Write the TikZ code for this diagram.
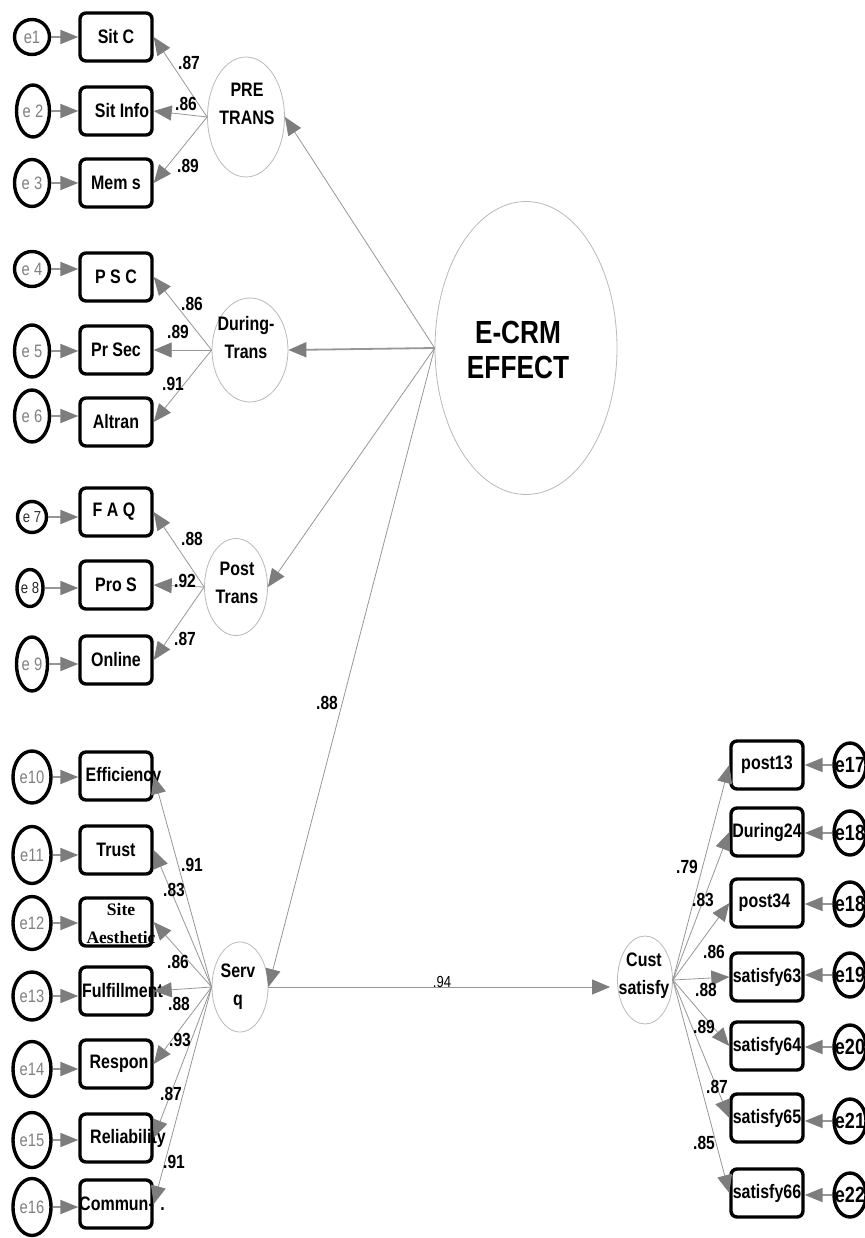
\documentclass[tikz,border=0pt]{standalone}
\usepackage{fontspec}
\setmainfont{Liberation Sans}[FakeStretch=0.82]
\newfontfamily\serifb{Liberation Serif}
\usetikzlibrary{shapes.geometric,arrows.meta}
\definecolor{lg}{RGB}{150,150,150}
\definecolor{ag}{RGB}{125,125,125}
\definecolor{eg}{RGB}{185,185,185}
\newcommand\ov[2]{\makebox[0pt]{\hspace*{#1}#2}}
\begin{document}
\begin{tikzpicture}[x=1pt,y=-1pt,
  ind/.style={draw=black,line width=3.4pt,rounded corners=6pt,minimum width=72pt,minimum height=48pt,inner sep=0pt,font=\bfseries\fontsize{19.5}{21}\selectfont},
  err/.style={draw=black,line width=3.4pt,ellipse,inner sep=0pt,text=gray,font=\fontsize{18}{20}\selectfont},
  errR/.style={err,minimum width=32pt,minimum height=44pt,text=black,font=\bfseries\fontsize{22}{24}\selectfont},
  lat/.style={draw=eg,line width=0.8pt,ellipse,inner sep=0pt},
  lattxt/.style={align=center,font=\bfseries\fontsize{19.5}{28}\selectfont},
  coef/.style={font=\bfseries\fontsize{19}{21}\selectfont},
  load/.style={draw=lg,line width=0.8pt,-{Triangle[length=18pt,width=15pt,color=ag]}},
  errarr/.style={draw=lg,line width=2pt,-{Triangle[length=18pt,width=14pt,color=ag]}}
]
\useasboundingbox (0,0) rectangle (864,1238);

% ---------- latent variables ----------
\node[lat,minimum width=182pt,minimum height=293pt] (ecrm) at (526,348) {};
\node[align=center,font=\bfseries\fontsize{32}{35}\selectfont] (ecrmtxt) at (518,350) {E-CRM\\EFFECT};
\node[lat,minimum width=77pt,minimum height=120pt] (pre) at (246,117) {};
\node[lattxt] (pretxt) at (247,104) {PRE\\TRANS};
\node[lat,minimum width=76pt,minimum height=104pt] (during) at (250,350) {};
\node[lattxt] (duringtxt) at (246,338) {During-\\Trans};
\node[lat,minimum width=63pt,minimum height=97pt] (post) at (236,587) {};
\node[lattxt] (posttxt) at (237,583) {Post\\Trans};
\node[lat,minimum width=56pt,minimum height=90pt] (serv) at (240,987) {};
\node[lattxt] (servtxt) at (238,987) {Serv\\q};
\node[lat,minimum width=55pt,minimum height=88pt] (cust) at (645,980) {};
\node[lattxt] (custtxt) at (644,976) {Cust\\satisfy};

% ---------- left indicators ----------
\node[ind] (sitc)    at (116,37)   {\ov{0pt}{Sit C}};
\node[ind] (sitinfo) at (116,111)  {\ov{12pt}{Sit Info}};
\node[ind] (mems)    at (116,183)  {\ov{0pt}{Mem s}};
\node[ind] (psc)     at (116,277)  {\ov{0pt}{P S C}};
\node[ind] (prsec)   at (116,350)  {\ov{0pt}{Pr Sec}};
\node[ind] (altran)  at (116,422)  {\ov{0pt}{Altran}};
\node[ind] (faq)     at (116,512)  {\ov{-4pt}{F A Q}};
\node[ind] (pros)    at (116,585)  {\ov{0pt}{Pro S}};
\node[ind] (online)  at (116,660)  {\ov{0pt}{Online}};
\node[ind] (eff)     at (116,776)  {\ov{15pt}{Efficiency}};
\node[ind] (trust)   at (116,850)  {\ov{0pt}{Trust}};
\node[ind] (sitea)   at (116,922)  {};
\node[align=center,font=\serifb\bfseries\fontsize{17.5}{28}\selectfont] (siteatxt) at (121,924) {Site\\Aesthetic};
\node[ind] (fulf)    at (116,991)  {\ov{13pt}{Fulfillment}};
\node[ind] (respon)  at (116,1064) {\ov{6pt}{Respon}};
\node[ind] (relia)   at (116,1138) {\ov{24pt}{Reliability}};
\node[ind] (commun)  at (116,1204) {\ov{12pt}{Commun-\,\,.}};

% ---------- left error terms ----------
\node[err,minimum width=35pt,minimum height=35pt] (e1)  at (32,37)   {\makebox[0pt]{e1}};
\node[err,minimum width=33pt,minimum height=52pt] (e2)  at (33,111)  {\makebox[0pt]{e 2}};
\node[err,minimum width=35pt,minimum height=47pt] (e3)  at (32,183)  {\makebox[0pt]{e 3}};
\node[err,minimum width=35pt,minimum height=35pt] (e4)  at (32,269)  {\makebox[0pt]{e 4}};
\node[err,minimum width=35pt,minimum height=52pt] (e5)  at (32,351)  {\makebox[0pt]{e 5}};
\node[err,minimum width=35pt,minimum height=52pt] (e6)  at (32,416)  {\makebox[0pt]{e 6}};
\node[err,minimum width=29pt,minimum height=31pt,text=black!80,font=\fontsize{16}{18}\selectfont] (e7)  at (32,517)  {\makebox[0pt]{e 7}};
\node[err,minimum width=26pt,minimum height=37pt,text=black!85,font=\fontsize{16}{18}\selectfont] (e8)  at (30,588)  {\makebox[0pt]{e 8}};
\node[err,minimum width=31pt,minimum height=54pt] (e9)  at (32,664)  {\makebox[0pt]{e 9}};
\node[err,minimum width=38pt,minimum height=52pt] (e10) at (32,777)  {\makebox[0pt]{e10}};
\node[err,minimum width=38pt,minimum height=57pt] (e11) at (32,855)  {\makebox[0pt]{e11}};
\node[err,minimum width=38pt,minimum height=53pt] (e12) at (32,923)  {\makebox[0pt]{e12}};
\node[err,minimum width=38pt,minimum height=48pt] (e13) at (32,996)  {\makebox[0pt]{e13}};
\node[err,minimum width=38pt,minimum height=55pt] (e14) at (32,1069) {\makebox[0pt]{e14}};
\node[err,minimum width=38pt,minimum height=55pt] (e15) at (32,1140) {\makebox[0pt]{e15}};
\node[err,minimum width=38pt,minimum height=57pt] (e16) at (32,1207) {\makebox[0pt]{e16}};

% ---------- right indicators ----------
\node[ind] (post13)   at (767,765)  {\ov{0pt}{post13}};
\node[ind] (during24) at (767,832)  {\ov{0pt}{During24}};
\node[ind] (post34)   at (767,903)  {\ov{-5pt}{post34}};
\node[ind] (sat63)    at (767,977)  {\ov{0pt}{satisfy63}};
\node[ind] (sat64)    at (767,1046) {\ov{0pt}{satisfy64}};
\node[ind] (sat65)    at (767,1118) {\ov{0pt}{satisfy65}};
\node[ind] (sat66)    at (767,1193) {\ov{0pt}{satisfy66}};

% ---------- right error terms ----------
\node[errR] (e17)  at (850,765)  {\makebox[0pt]{e17}};
\node[errR] (e18)  at (850,833)  {\makebox[0pt]{e18}};
\node[errR] (e18b) at (850,904)  {\makebox[0pt]{e18}};
\node[errR] (e19)  at (850,975)  {\makebox[0pt]{e19}};
\node[errR] (e20)  at (850,1047) {\makebox[0pt]{e20}};
\node[errR] (e21)  at (850,1121) {\makebox[0pt]{e21}};
\node[errR] (e22)  at (850,1195) {\makebox[0pt]{e22}};

% ---------- error arrows ----------
\foreach \e/\b in {e1/sitc,e2/sitinfo,e3/mems,e4/psc,e5/prsec,e6/altran,e7/faq,e8/pros,e9/online,e10/eff,e11/trust,e12/sitea,e13/fulf,e14/respon,e15/relia,e16/commun}
  \draw[errarr] (\e.east) -- (\e.east -| \b.west);
\foreach \e/\b in {e17/post13,e18/during24,e18b/post34,e19/sat63,e20/sat64,e21/sat65,e22/sat66}
  \draw[errarr] (\e.west) -- (\e.west -| \b.east);

% ---------- loadings ----------
\foreach \b in {sitc,sitinfo,mems} \draw[load] (pre.west) -- (\b.east);
\foreach \b in {psc,prsec,altran} \draw[load] (during.west) -- (\b.east);
\foreach \b in {faq,pros,online} \draw[load] (post.west) -- (\b.east);
\foreach \b in {eff,trust,sitea,fulf,respon,relia,commun} \draw[load] (serv.west) -- (\b.east);
\foreach \b in {post13,during24,post34,sat63,sat64,sat65,sat66} \draw[load] (cust.east) -- (\b.west);

\draw[load] (ecrm.west) -- (pre.east);
\draw[load,line width=1.8pt] (ecrm.west) -- (during.east);
\draw[load] (ecrm.west) -- (post.east);
\draw[load] (ecrm.west) -- (serv.east);
\draw[load,shorten >=7pt] (serv.east) -- (serv.east -| cust.west);

% ---------- coefficients ----------
\node[coef] (c1) at (189,63) {.87};
\node[coef] (c2) at (186,104) {.86};
\node[coef] (c3) at (188,166) {.89};
\node[coef] (c4) at (192,304) {.86};
\node[coef] (c5) at (178,332) {.89};
\node[coef] (c6) at (173,384) {.91};
\node[coef] (c7) at (192,539) {.88};
\node[coef] (c8) at (185,581) {.92};
\node[coef] (c9) at (185,639) {.87};
\node[coef] (c10) at (192,865) {.91};
\node[coef] (c11) at (174,890) {.83};
\node[coef] (c12) at (178,962) {.86};
\node[coef] (c13) at (179,1004) {.88};
\node[coef] (c14) at (180,1040) {.93};
\node[coef] (c15) at (171,1094) {.87};
\node[coef] (c16) at (174,1162) {.91};
\node[coef] (c17) at (687,867) {.79};
\node[coef] (c18) at (703,900) {.83};
\node[coef] (c19) at (714,952) {.86};
\node[coef] (c20) at (706,990) {.88};
\node[coef] (c21) at (704,1027) {.89};
\node[coef] (c22) at (717,1087) {.87};
\node[coef] (c23) at (704,1143) {.85};
\node[coef] (c24) at (327,703) {.88};
\node[font=\fontsize{16}{18}\selectfont] (c25) at (442,982) {.94};
\end{tikzpicture}
\end{document}
